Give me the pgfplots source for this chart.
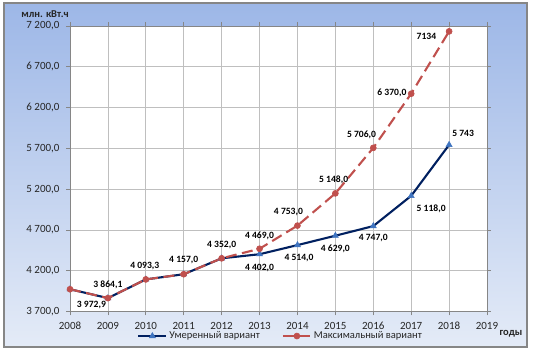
\documentclass[border=0pt]{standalone}
\usepackage{pgfplots}
\pgfplotsset{compat=1.18}
\usepackage{fontspec}
\setmainfont{Carlito}
\definecolor{navy}{HTML}{002060}
\definecolor{tri}{HTML}{3F74C0}
\definecolor{rd}{HTML}{C0504D}
\definecolor{frame}{HTML}{868686}
\definecolor{gridc}{HTML}{BFBFBF}
\definecolor{txt}{HTML}{262626}
\begin{document}
\begin{tikzpicture}[x=1pt,y=1pt]
\useasboundingbox (0,0) rectangle (534,355);
\fill[white] (0,0) rectangle (534,355);
\shade[top color={rgb,255:red,157;green,183;blue,231}, bottom color={rgb,255:red,228;green,235;blue,247}] (4,8) rectangle (527,352);
\draw[frame, line width=1.2pt] (4,8) rectangle (527,352);
\begin{axis}[
  at={(70pt,43.5pt)}, anchor=south west,
  width=417pt, height=285.5pt, scale only axis,
  xmin=2008, xmax=2019, ymin=3700, ymax=7200,
  xtick={2008,...,2019},
  xticklabels={2008,2009,2010,2011,2012,2013,2014,2015,2016,2017,2018,2019},
  ytick={3700,4200,4700,5200,5700,6200,6700,7200},
  yticklabels={{3 700,0},{4 200,0},{4 700,0},{5 200,0},{5 700,0},{6 200,0},{6 700,0},{7 200,0}},
  tick label style={font=\fontsize{11}{13}\selectfont, text=txt},
  xticklabel style={yshift=-3pt},
  yticklabel style={xshift=-3pt},
  grid=major,
  major grid style={gridc, line width=0.8pt},
  axis line style={frame, line width=0.9pt},
  tick align=outside, major tick length=4pt,
  tick style={frame, line width=0.8pt},
  axis background/.style={fill=white},
  clip=false,
  legend columns=2,
  legend style={at={(0.505,-0.086)}, anchor=center, draw=none, fill=none,
    font=\fontsize{10.5}{12}\selectfont, text=txt,
    /tikz/every even column/.append style={column sep=20pt}},
  legend image code/.code={\draw[mark repeat=2,mark phase=2] plot coordinates {(0pt,0pt) (14pt,0pt) (28pt,0pt)};},
]
\addplot[navy, line width=2.1pt, mark=triangle*, mark size=3.5pt,
  mark options={fill=tri, draw=tri, solid, line width=0.5pt}] coordinates {
  (2008,3972.9) (2009,3864.1) (2010,4093.3) (2011,4157.0) (2012,4352.0)
  (2013,4402.0) (2014,4514.0) (2015,4629.0) (2016,4747.0) (2017,5118.0) (2018,5743.0)};
\addlegendentry{Умеренный вариант}
\addplot[rd, line width=2.1pt, dash pattern=on 11pt off 5.5pt, mark=*, mark size=3pt,
  mark options={fill=rd, draw=rd, solid, line width=0.6pt}] coordinates {
  (2008,3972.9) (2009,3864.1) (2010,4093.3) (2011,4157.0) (2012,4352.0)
  (2013,4469.0) (2014,4753.0) (2015,5148.0) (2016,5706.0) (2017,6370.0) (2018,7134.0)};
\addlegendentry{Максимальный вариант}
\begin{scope}[every node/.style={font=\fontsize{9.6}{11}\bfseries, text=black, inner sep=0pt}]
\node[xshift=0pt,yshift=13.5pt] at (axis cs:2009,3864.1) {3 864,1};
\node[xshift=-16.5pt,yshift=-6.6pt] at (axis cs:2009,3864.1) {3 972,9};
\node[xshift=-1pt,yshift=13.5pt] at (axis cs:2010,4093.3) {4 093,3};
\node[xshift=0pt,yshift=14.5pt] at (axis cs:2011,4157.0) {4 157,0};
\node[xshift=0pt,yshift=13.3pt] at (axis cs:2012,4352.0) {4 352,0};
\node[xshift=0pt,yshift=12.6pt] at (axis cs:2013,4469.0) {4 469,0};
\node[xshift=0pt,yshift=-14pt] at (axis cs:2013,4402.0) {4 402,0};
\node[xshift=-9pt,yshift=14pt] at (axis cs:2014,4753.0) {4 753,0};
\node[xshift=1.6pt,yshift=-13.3pt] at (axis cs:2014,4514.0) {4 514,0};
\node[xshift=-1.7pt,yshift=13.3pt] at (axis cs:2015,5148.0) {5 148,0};
\node[xshift=0pt,yshift=-12.7pt] at (axis cs:2015,4629.0) {4 629,0};
\node[xshift=-11.7pt,yshift=13.3pt] at (axis cs:2016,5706.0) {5 706,0};
\node[xshift=0pt,yshift=-12.3pt] at (axis cs:2016,4747.0) {4 747,0};
\node[xshift=-19.3pt,yshift=1pt] at (axis cs:2017,6370.0) {6 370,0};
\node[xshift=20pt,yshift=-13pt] at (axis cs:2017,5118.0) {5 118,0};
\node[xshift=-22.7pt,yshift=-5pt] at (axis cs:2018,7134.0) {7134};
\node[xshift=14pt,yshift=11pt] at (axis cs:2018,5743.0) {5 743};
\end{scope}
\end{axis}
\node[font=\fontsize{10.5}{12}\bfseries, text=txt] at (45,341) {млн. кВт.ч};
\node[font=\fontsize{10.5}{12}\bfseries, text=txt] at (511,21) {годы};
\end{tikzpicture}
\end{document}
